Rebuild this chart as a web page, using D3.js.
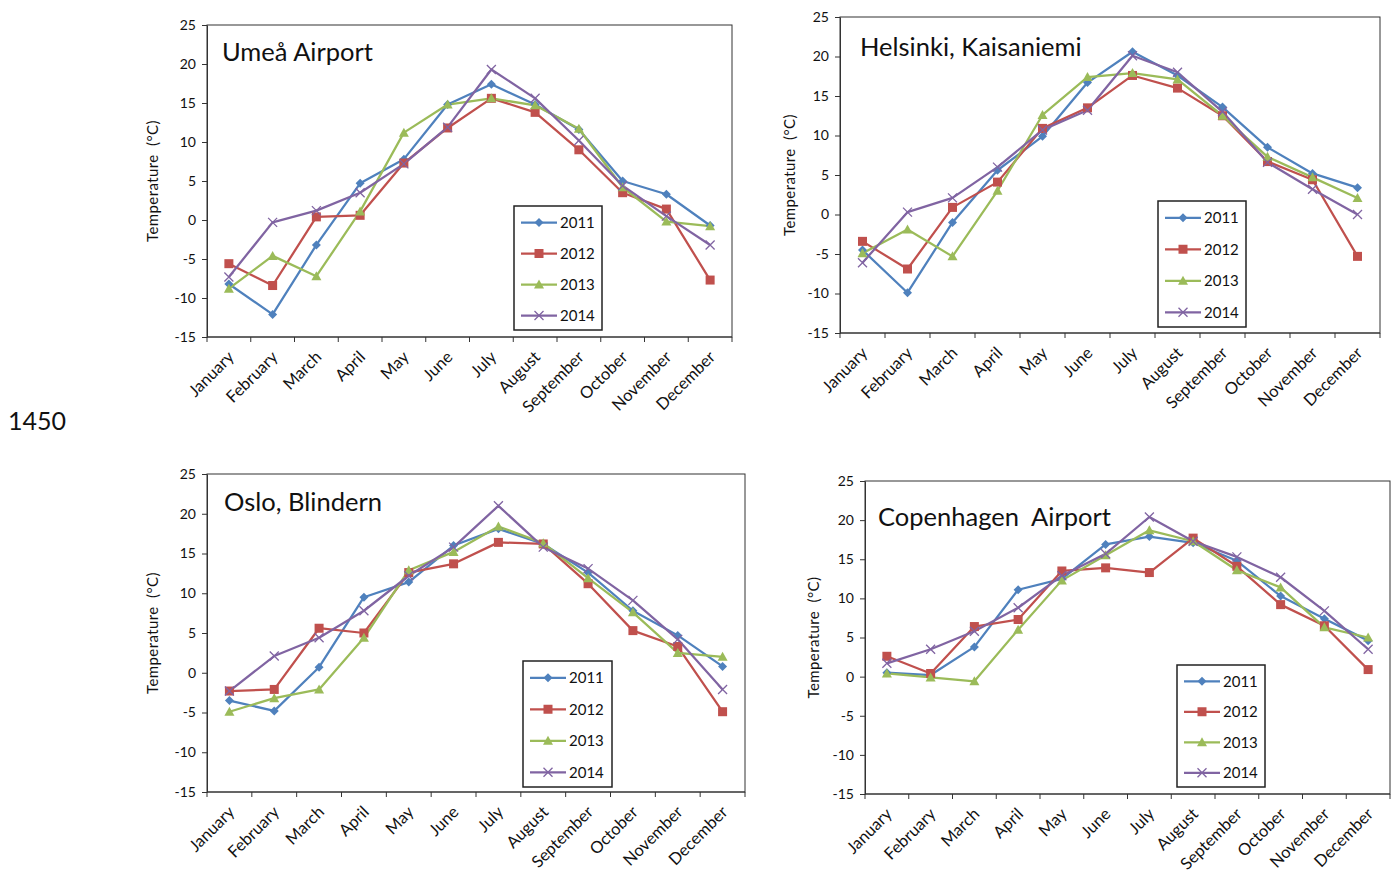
<!DOCTYPE html>
<html><head><meta charset="utf-8">
<script src="https://cdn.jsdelivr.net/npm/d3@7"></script>
<style>
body{margin:0;background:#fff;}
text{font-family:Lato,"Open Sans",sans-serif;fill:#111;}
</style></head>
<body><svg id="c" width="1394" height="874"></svg>
<script>
const months = ["January","February","March","April","May","June","July","August","September","October","November","December"];
const years = ["2011","2012","2013","2014"];
const yTicks = [-15,-10,-5,0,5,10,15,20,25];
const stations = ["Umeå Airport","Helsinki, Kaisaniemi","Oslo, Blindern","Copenhagen  Airport"];

const umea2011 = [-8.2,-12.1,-3.2,4.7,7.8,14.8,17.4,14.8,11.6,5.0,3.3,-0.7];
const umea2012 = [-5.6,-8.4,0.4,0.6,7.3,11.8,15.6,13.8,9.0,3.5,1.4,-7.7];
const umea2013 = [-8.8,-4.6,-7.2,1.1,11.2,14.8,15.6,14.7,11.7,4.2,-0.2,-0.8];
const umea2014 = [-7.3,-0.3,1.2,3.5,7.2,11.9,19.3,15.6,10.2,4.4,0.5,-3.2];

const hel2011 = [-4.5,-9.9,-1.0,5.6,9.9,16.7,20.6,17.6,13.6,8.5,5.2,3.4];
const hel2012 = [-3.4,-6.9,0.9,4.1,10.9,13.5,17.6,16.0,12.5,6.7,4.4,-5.3];
const hel2013 = [-4.9,-1.9,-5.3,3.0,12.6,17.4,17.9,17.1,12.5,7.3,4.7,2.1];
const hel2014 = [-6.1,0.3,2.1,6.0,10.7,13.2,20.1,18.0,13.0,6.6,3.2,0.0];

const oslo2011 = [-3.5,-4.8,0.7,9.5,11.4,16.0,18.1,16.2,12.6,7.8,4.7,0.8];
const oslo2012 = [-2.3,-2.1,5.6,5.0,12.6,13.7,16.4,16.2,11.2,5.3,3.3,-4.9];
const oslo2013 = [-4.9,-3.2,-2.1,4.4,12.9,15.2,18.4,16.3,11.9,7.6,2.5,2.0];
const oslo2014 = [-2.3,2.1,4.4,7.8,12.2,15.8,21.0,15.8,13.1,9.1,4.2,-2.1];

const cph2011 = [0.5,0.2,3.8,11.1,12.5,16.9,17.9,17.1,14.8,10.3,7.4,4.6];
const cph2012 = [2.6,0.4,6.4,7.3,13.5,13.9,13.3,17.7,14.1,9.2,6.5,0.9];
const cph2013 = [0.4,-0.1,-0.6,6.0,12.3,15.5,18.7,17.3,13.6,11.4,6.3,5.0];
const cph2014 = [1.7,3.5,5.8,8.8,12.9,15.7,20.4,17.3,15.3,12.7,8.4,3.5];

const stationData = [
  [umea2011,umea2012,umea2013,umea2014],
  [hel2011,hel2012,hel2013,hel2014],
  [oslo2011,oslo2012,oslo2013,oslo2014],
  [cph2011,cph2012,cph2013,cph2014]
];

const colors = ["#4F81BD","#C0504D","#9BBB59","#8064A2"];
const layouts = [
  {x0:207,x1:732,y0:25,y1:337,lg:{x:514,y:206,w:88,h:124},tx:222,ty:61,yl:153},
  {x0:840,x1:1380,y0:17,y1:333,lg:{x:1158,y:201,w:88,h:126},tx:860,ty:56,yl:790},
  {x0:207,x1:745,y0:474,y1:792,lg:{x:523,y:661,w:89,h:126},tx:224,ty:511,yl:153},
  {x0:865,x1:1390,y0:481,y1:794,lg:{x:1177,y:665,w:88,h:122},tx:878,ty:526,yl:814}
];

const svg = d3.select("#c");
svg.append("text").attr("x",8).attr("y",430).style("font-size","25px").text("1450");

function marker(g, type, x, y, color){
  if(type===0){
    g.append("path").attr("d",`M${x},${y-4.5}L${x+4.5},${y}L${x},${y+4.5}L${x-4.5},${y}Z`).attr("fill",color);
  } else if(type===1){
    g.append("rect").attr("x",x-4.5).attr("y",y-4.5).attr("width",9).attr("height",9).attr("fill",color);
  } else if(type===2){
    g.append("path").attr("d",`M${x},${y-5}L${x+5},${y+4}L${x-5},${y+4}Z`).attr("fill",color);
  } else {
    g.append("path").attr("d",`M${x-4.5},${y-4.5}L${x+4.5},${y+4.5}M${x-4.5},${y+4.5}L${x+4.5},${y-4.5}`).attr("stroke",color).attr("stroke-width",1.3).attr("fill","none");
  }
}

layouts.forEach((L,i)=>{
  const g = svg.append("g");
  const x = d3.scaleBand().domain(months).range([L.x0,L.x1]);
  const y = d3.scaleLinear().domain([-15,25]).range([L.y1,L.y0]);
  g.append("rect").attr("x",L.x0).attr("y",L.y0).attr("width",L.x1-L.x0).attr("height",L.y1-L.y0)
    .attr("fill","none").attr("stroke","#333").attr("stroke-width",1);
  const ya = g.append("g").attr("transform",`translate(${L.x0},0)`)
    .call(d3.axisLeft(y).tickValues(yTicks).tickFormat(d=>String(d)).tickSize(5).tickSizeOuter(0).tickPadding(6));
  ya.select(".domain").attr("stroke","#333");
  ya.selectAll("line").attr("stroke","#333");
  ya.selectAll("text").style("font-size","14px").style("font-family","Lato,'Open Sans',sans-serif").attr("fill","#111");
  const xa = g.append("g").attr("transform",`translate(0,${L.y1})`);
  xa.append("line").attr("x1",L.x0).attr("x2",L.x1).attr("stroke","#333");
  const bounds = months.map(m=>x(m)).concat([L.x1]);
  xa.selectAll("line.t").data(bounds).join("line").attr("class","t")
    .attr("x1",d=>d).attr("x2",d=>d).attr("y1",0).attr("y2",5).attr("stroke","#333");
  xa.selectAll("text").data(months).join("text")
    .attr("transform",d=>`translate(${x(d)+x.bandwidth()/2+2},${17}) rotate(-45)`)
    .attr("text-anchor","end").attr("dy","0.35em").style("font-size","16.5px").text(d=>d);
  g.append("text").attr("transform",`translate(${L.yl},${(L.y0+L.y1)/2}) rotate(-90)`)
    .attr("text-anchor","middle").attr("dy","0.35em").style("font-size","15px").style("letter-spacing","0.4px")
    .style("white-space","pre").text("Temperature  (°C)");
  g.append("text").attr("x",L.tx).attr("y",L.ty).style("font-size","25.5px").style("white-space","pre").text(stations[i]);
  const line = d3.line().x((d,k)=>x(months[k])+x.bandwidth()/2).y(d=>y(d));
  stationData[i].forEach((ser,s)=>{
    g.append("path").datum(ser).attr("d",line).attr("fill","none").attr("stroke",colors[s]).attr("stroke-width",2.25).attr("stroke-linejoin","round");
  });
  stationData[i].forEach((ser,s)=>{
    ser.forEach((v,k)=>marker(g,s,x(months[k])+x.bandwidth()/2,y(v),colors[s]));
  });
  const lg = L.lg;
  g.append("rect").attr("x",lg.x).attr("y",lg.y).attr("width",lg.w).attr("height",lg.h).attr("fill","#fff").attr("stroke","#222").attr("stroke-width",1.5);
  years.forEach((yr,s)=>{
    const cy = lg.y + lg.h*(s+0.5)/4 + 1;
    g.append("line").attr("x1",lg.x+7).attr("x2",lg.x+43).attr("y1",cy).attr("y2",cy).attr("stroke",colors[s]).attr("stroke-width",2.25);
    marker(g,s,lg.x+25,cy,colors[s]);
    g.append("text").attr("x",lg.x+46).attr("y",cy).attr("dy","0.35em").style("font-size","15px").text(yr);
  });
});
</script></body></html>
